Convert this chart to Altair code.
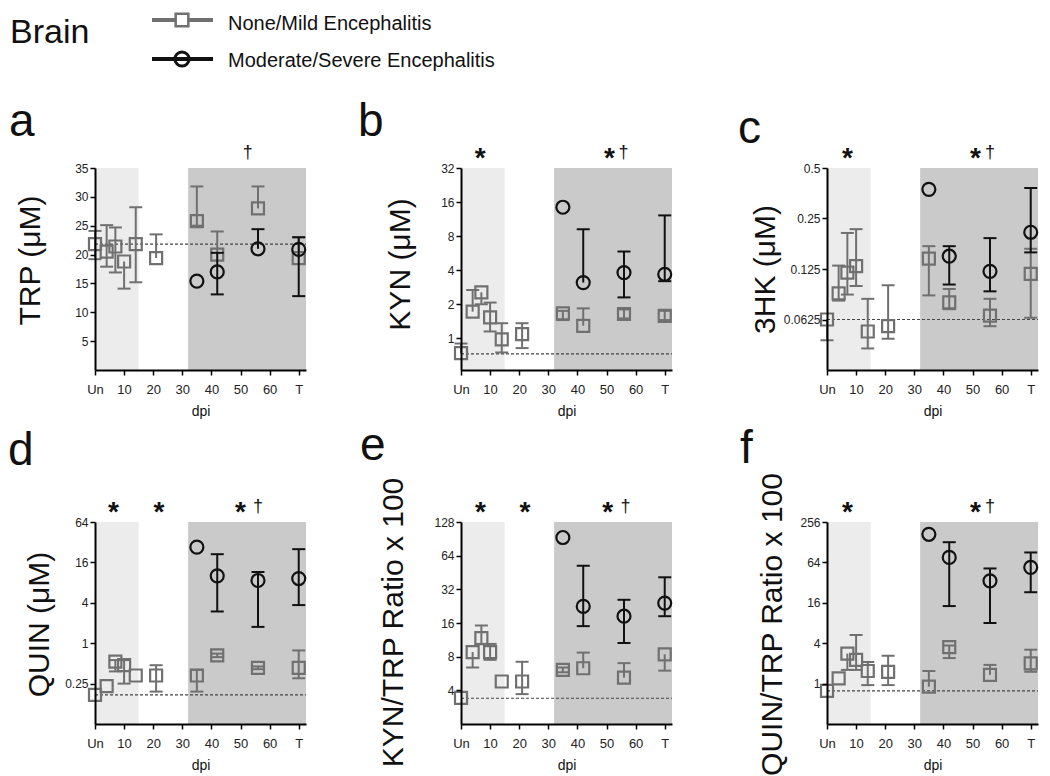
import altair as alt
import pandas as pd

# ---------------- data ----------------
DPI_NONE = [0, 4, 7, 10, 14, 21, 35, 42, 56, 70]
DPI_MOD = [35, 42, 56, 70]
X_TICKS = [0, 10, 20, 30, 40, 50, 60, 70]

TRP_NONE_MEAN = [21.8, 20.5, 21.4, 18.8, 21.8, 19.4, 25.8, 20.0, 28.0, 19.4]
TRP_NONE_LO = [19.2, 17.9, 16.9, 14.1, 15.2, 19.4, 25.0, 20.0, 28.0, 19.4]
TRP_NONE_HI = [24.1, 25.1, 24.7, 18.8, 28.2, 23.5, 31.8, 24.0, 31.8, 23.0]
TRP_MOD_MEAN = [15.4, 17.0, 21.0, 20.9]
TRP_MOD_LO = [15.4, 13.1, 21.0, 12.8]
TRP_MOD_HI = [15.4, 20.3, 24.4, 23.0]
TRP_REF = 21.8

KYN_NONE_MEAN = [0.74, 1.72, 2.55, 1.53, 0.98, 1.09, 1.66, 1.29, 1.64, 1.58]
KYN_NONE_LO = [0.74, 1.72, 2.0, 1.15, 0.75, 0.82, 1.45, 1.29, 1.50, 1.45]
KYN_NONE_HI = [0.90, 2.67, 2.55, 2.07, 1.36, 1.36, 1.75, 1.84, 1.80, 1.75]
KYN_MOD_MEAN = [14.4, 3.11, 3.81, 3.68]
KYN_MOD_LO = [14.4, 3.11, 2.3, 3.2]
KYN_MOD_HI = [14.4, 9.2, 5.85, 12.2]
KYN_REF = 0.73

HK_NONE_MEAN = [0.0625, 0.0895, 0.119, 0.130, 0.053, 0.057, 0.144, 0.079, 0.066, 0.117]
HK_NONE_LO = [0.047, 0.081, 0.088, 0.099, 0.042, 0.048, 0.087, 0.072, 0.057, 0.064]
HK_NONE_HI = [0.0625, 0.131, 0.205, 0.216, 0.083, 0.100, 0.171, 0.095, 0.083, 0.165]
HK_MOD_MEAN = [0.373, 0.149, 0.121, 0.207]
HK_MOD_LO = [0.373, 0.101, 0.092, 0.157]
HK_MOD_HI = [0.373, 0.171, 0.191, 0.38]
HK_REF = 0.0625

QUIN_NONE_MEAN = [0.17, 0.23, 0.53, 0.47, 0.33, 0.33, 0.33, 0.66, 0.43, 0.43]
QUIN_NONE_LO = [0.17, 0.23, 0.38, 0.25, 0.33, 0.19, 0.19, 0.62, 0.41, 0.30]
QUIN_NONE_HI = [0.17, 0.23, 0.56, 0.56, 0.33, 0.47, 0.40, 0.70, 0.45, 0.78]
QUIN_MOD_MEAN = [27.0, 10.1, 8.6, 9.2]
QUIN_MOD_LO = [27.0, 2.97, 1.75, 3.7]
QUIN_MOD_HI = [27.0, 21.2, 11.5, 25.2]
QUIN_REF = 0.17

KT_NONE_MEAN = [3.43, 8.8, 11.7, 8.8, 4.8, 4.8, 6.1, 6.3, 5.2, 8.4]
KT_NONE_LO = [3.43, 6.4, 10.4, 7.5, 4.8, 3.7, 5.8, 6.3, 5.2, 6.0]
KT_NONE_HI = [3.43, 8.8, 15.2, 10.4, 4.8, 7.2, 6.4, 8.7, 7.0, 8.4]
KT_MOD_MEAN = [93.0, 22.5, 18.4, 24.1]
KT_MOD_LO = [93.0, 15.0, 10.6, 18.4]
KT_MOD_HI = [93.0, 52.0, 25.8, 41.0]
KT_REF = 3.4

QT_NONE_MEAN = [0.78, 1.2, 2.8, 2.25, 1.54, 1.5, 0.9, 3.5, 1.35, 2.0]
QT_NONE_LO = [0.78, 1.2, 1.6, 1.6, 0.95, 0.95, 0.9, 2.4, 1.35, 1.5]
QT_NONE_HI = [0.78, 1.2, 2.8, 5.3, 2.1, 2.6, 1.54, 3.7, 1.9, 3.2]
QT_MOD_MEAN = [168.0, 76.0, 34.0, 54.0]
QT_MOD_LO = [168.0, 14.3, 8.0, 23.0]
QT_MOD_HI = [168.0, 128.0, 52.0, 90.0]
QT_REF = 0.78

SHADE_X1 = [0, 32]
SHADE_X2 = [15, 72.5]

# ---------------- style ----------------
W, H = 211, 202
GREY = "#707070"
BLACK = "#111111"
LIGHT = "#ececec"
DARK = "#cacaca"
FONT = "Liberation Sans"
XDOM = [0, 72.5]
ONE = pd.DataFrame({"k": [0]})


def make_panel(letter, lxy, ytitle, txy, ticks, domain, log,
               none, mod, ref, star_x, dagger_x, extra=None):
    xs = alt.Scale(domain=XDOM, nice=False, zero=False)
    if log:
        ys = alt.Scale(type="log", base=2, domain=domain, nice=False)
    else:
        ys = alt.Scale(type="linear", domain=domain, nice=False, zero=False)
    xax = alt.Axis(values=X_TICKS, title="dpi", titleX=W / 2, titleY=41,
                   titleBaseline="middle", titleFontSize=14, titleFontWeight="normal",
                   labelExpr="datum.value == 0 ? 'Un' : datum.value == 70 ? 'T' : datum.label",
                   labelFontSize=13, labelPadding=8, labelFlush=False, labelOverlap=False,
                   tickSize=5, grid=False, zindex=2)
    yax = alt.Axis(values=ticks, format="~g", title=ytitle, titleX=txy[0], titleY=txy[1],
                   titleAngle=270, titleAlign="center", titleBaseline="middle",
                   titleFontSize=30, titleFontWeight="normal",
                   labelFontSize=12, labelPadding=2, labelOverlap=False, labelFlush=False,
                   tickSize=5, grid=False, zindex=2)

    layers = []
    shade = pd.DataFrame({"x1": SHADE_X1, "x2": SHADE_X2,
                          "y1": [domain[1]] * 2, "y2": [domain[0]] * 2,
                          "c": [LIGHT, DARK]})
    layers.append(alt.Chart(shade).mark_rect().encode(
        x=alt.X("x1:Q", scale=xs, axis=xax), x2="x2:Q",
        y=alt.Y("y1:Q", scale=ys, axis=yax), y2="y2:Q",
        color=alt.Color("c:N", scale=None)))
    refdf = pd.DataFrame({"x1": [0], "x2": [XDOM[1]], "v": [ref]})
    layers.append(alt.Chart(refdf).mark_rule(color="#444444", strokeWidth=1.2,
                                              strokeDash=[3, 2]).encode(
        x=alt.X("x1:Q", scale=xs, axis=xax), x2="x2:Q",
        y=alt.Y("v:Q", scale=ys, axis=yax)))

    for dpis, (m, lo, hi), color, shape, size in [
            (DPI_NONE, none, GREY, "square", 144),
            (DPI_MOD, mod, BLACK, "circle", 169)]:
        df = pd.DataFrame({"dpi": dpis, "m": m, "lo": lo, "hi": hi})
        caps = []
        for d, mm, l, h in zip(dpis, m, lo, hi):
            if h > mm:
                caps.append({"dpi": d, "v": h})
            if l < mm:
                caps.append({"dpi": d, "v": l})
        layers.append(alt.Chart(df).mark_rule(color=color, strokeWidth=2).encode(
            x=alt.X("dpi:Q", scale=xs, axis=xax),
            y=alt.Y("lo:Q", scale=ys, axis=yax), y2="hi:Q"))
        if caps:
            layers.append(alt.Chart(pd.DataFrame(caps)).mark_tick(
                color=color, orient="horizontal", size=13, thickness=2, opacity=1).encode(
                x=alt.X("dpi:Q", scale=xs, axis=xax),
                y=alt.Y("v:Q", scale=ys, axis=yax)))
        layers.append(alt.Chart(df).mark_point(
            shape=shape, filled=False, size=size, strokeWidth=2.2, color=color,
            opacity=1).encode(
            x=alt.X("dpi:Q", scale=xs, axis=xax),
            y=alt.Y("m:Q", scale=ys, axis=yax)))

    if star_x:
        layers.append(alt.Chart(pd.DataFrame({"x": star_x, "s": ["*"] * len(star_x)}))
                      .mark_text(font=FONT, fontSize=28, fontWeight="bold", color=BLACK,
                                 baseline="alphabetic", align="center").encode(
            x=alt.X("x:Q", scale=xs, axis=xax), y=alt.value(-1), text="s:N"))
    if dagger_x:
        layers.append(alt.Chart(pd.DataFrame({"x": dagger_x, "s": ["\u2020"] * len(dagger_x)}))
                      .mark_text(font=FONT, fontSize=18, color=BLACK,
                                 baseline="alphabetic", align="center").encode(
            x=alt.X("x:Q", scale=xs, axis=xax), y=alt.value(-10), text="s:N"))

    layers.append(alt.Chart(ONE).mark_text(
        text=letter, font=FONT, fontSize=46, color=BLACK, align="left",
        baseline="alphabetic").encode(x=alt.value(lxy[0]), y=alt.value(lxy[1])))
    if extra:
        layers.extend(extra)
    return alt.layer(*layers).properties(width=W, height=H)


# header (title + legend) drawn in panel a's coordinates
header = [
    # invisible spacer fixing the top edge of the figure
    alt.Chart(ONE).mark_rule(strokeOpacity=0, strokeWidth=1).encode(
        x=alt.value(-80), x2=alt.value(0), y=alt.value(-157)),
    alt.Chart(ONE).mark_text(text="Brain", font=FONT, fontSize=34, color=BLACK,
                             align="left", baseline="top").encode(
        x=alt.value(-85), y=alt.value(-152)),
    alt.Chart(ONE).mark_rule(color=GREY, strokeWidth=4).encode(
        x=alt.value(57), x2=alt.value(118), y=alt.value(-148)),
    alt.Chart(ONE).mark_point(shape="square", filled=True, fill="white", stroke=GREY,
                              strokeWidth=2.5, size=160, opacity=1).encode(
        x=alt.value(87), y=alt.value(-148)),
    alt.Chart(ONE).mark_text(text="None/Mild Encephalitis", font=FONT, fontSize=20,
                             color=BLACK, align="left", baseline="middle").encode(
        x=alt.value(133), y=alt.value(-144)),
    alt.Chart(ONE).mark_rule(color=BLACK, strokeWidth=4).encode(
        x=alt.value(57), x2=alt.value(118), y=alt.value(-109)),
    alt.Chart(ONE).mark_point(shape="circle", filled=False, stroke=BLACK,
                              strokeWidth=3, size=200, opacity=1).encode(
        x=alt.value(87), y=alt.value(-109)),
    alt.Chart(ONE).mark_text(text="Moderate/Severe Encephalitis", font=FONT, fontSize=20,
                             color=BLACK, align="left", baseline="middle").encode(
        x=alt.value(133), y=alt.value(-107)),
]

pa = make_panel("a", (-86, -32), "TRP (\u03bcM)", (-65, 92), [5, 10, 15, 20, 25, 30, 35],
                [0, 35], False, (TRP_NONE_MEAN, TRP_NONE_LO, TRP_NONE_HI),
                (TRP_MOD_MEAN, TRP_MOD_LO, TRP_MOD_HI), TRP_REF, [], [52.5], header)
pb = make_panel("b", (-103, -32), "KYN (\u03bcM)", (-61, 96), [1, 2, 4, 8, 16, 32],
                [0.525, 32], True, (KYN_NONE_MEAN, KYN_NONE_LO, KYN_NONE_HI),
                (KYN_MOD_MEAN, KYN_MOD_LO, KYN_MOD_HI), KYN_REF, [6.6, 51], [55.8])
pc = make_panel("c", (-89, -25), "3HK (\u03bcM)", (-62, 101), [0.0625, 0.125, 0.25, 0.5],
                [0.03125, 0.5], True, (HK_NONE_MEAN, HK_NONE_LO, HK_NONE_HI),
                (HK_MOD_MEAN, HK_MOD_LO, HK_MOD_HI), HK_REF, [7, 51], [56])
pd_ = make_panel("d", (-87, -57), "QUIN (\u03bcM)", (-56, 102), [0.25, 1, 4, 16, 64],
                 [0.0625, 64], True, (QUIN_NONE_MEAN, QUIN_NONE_LO, QUIN_NONE_HI),
                 (QUIN_MOD_MEAN, QUIN_MOD_LO, QUIN_MOD_HI), QUIN_REF, [6.3, 22, 50], [56])
pe = make_panel("e", (-101, -62), "KYN/TRP Ratio x 100", (-68, 100), [4, 8, 16, 32, 64, 128],
                [2, 128], True, (KT_NONE_MEAN, KT_NONE_LO, KT_NONE_HI),
                (KT_MOD_MEAN, KT_MOD_LO, KT_MOD_HI), KT_REF, [6.7, 22, 50.4], [56.5])
pf = make_panel("f", (-87, -59), "QUIN/TRP Ratio x 100", (-55, 102), [1, 4, 16, 64, 256],
                [0.25, 256], True, (QT_NONE_MEAN, QT_NONE_LO, QT_NONE_HI),
                (QT_MOD_MEAN, QT_MOD_LO, QT_MOD_HI), QT_REF, [7, 51], [56])

chart = alt.concat(pa, pb, pc, pd_, pe, pf, columns=3,
                   spacing={"row": 152, "column": 155}, bounds="flush").properties(
    padding=0, background="white"
).configure_view(stroke=None).configure_axis(
    domainColor="black", domainWidth=2, tickColor="black", tickWidth=1.5,
    labelFont=FONT, titleFont=FONT, labelColor="#222222", titleColor=BLACK
)

chart.save("out.html", embed_options={"renderer": "svg", "actions": False})
